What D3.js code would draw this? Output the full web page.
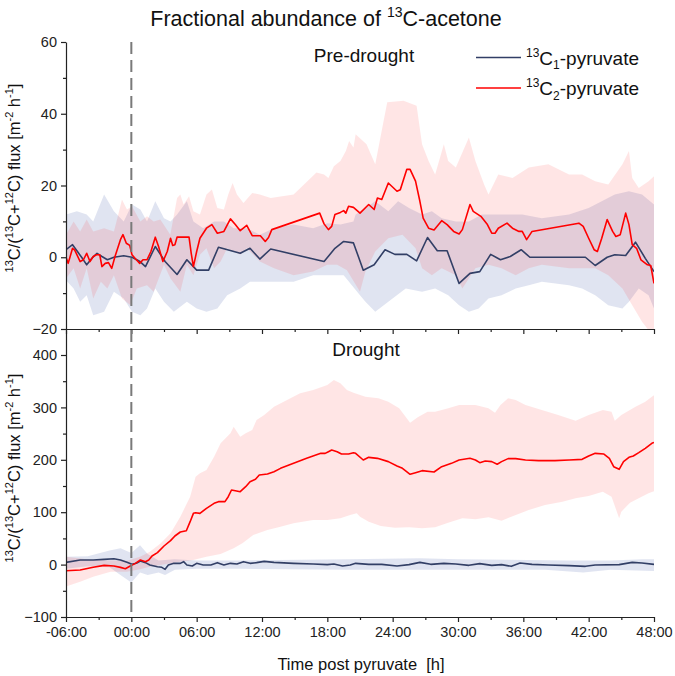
<!DOCTYPE html>
<html><head><meta charset="utf-8">
<script src="https://cdn.jsdelivr.net/npm/d3@7"></script>
<style>body{margin:0;background:#fff}svg{display:block;font-family:"Liberation Sans",Arial,sans-serif}</style>
</head><body><svg id="c" width="675" height="676"></svg>
<script>
// ---------------- DATA ----------------
const xTickHours = [-6,0,6,12,18,24,30,36,42,48];
const xTickLabels = ["-06:00","00:00","06:00","12:00","18:00","24:00","30:00","36:00","42:00","48:00"];
const topYTicks = [-20,0,20,40,60];
const botYTicks = [-100,0,100,200,300,400];
const seriesNames = ["C1","C2"];

// Pre-drought, 13C2 (red)
const preC2Hours = [-6,-5.8,-5.4,-5.2,-4.7,-4.4,-4.1,-3.8,-3.5,-3.2,-2.9,-2.7,-2.4,-2.1,-1.8,-1.5,-1.0,-0.77,-0.46,-0.15,0.06,0.46,0.77,1.07,1.44,1.8,2.2,2.5,2.9,3.3,3.6,3.8,4.0,4.2,4.7,5.3,5.5,5.7,6.0,6.3,6.9,7.4,7.9,8.5,9.1,9.55,10.0,10.6,11.1,11.85,12.3,12.6,12.9,17.3,17.7,18.1,18.4,18.7,19.2,19.5,19.7,19.95,20.4,21.0,21.8,22.3,22.6,23.0,23.6,24.4,24.7,25.3,25.6,26.1,26.5,26.8,27.3,27.8,28.5,29.0,29.6,30.1,30.4,31.1,31.4,32.1,32.7,33.1,33.4,33.7,34.5,35.0,35.6,35.9,36.3,36.8,41.1,41.5,42.0,42.5,42.8,43.2,43.7,44.2,44.5,44.9,45.4,45.7,46.0,46.4,46.8,47.4,47.7,48];
const preC2Values = [0,-1.7,2.5,2.0,-1.2,-0.7,1.1,-1.2,0.2,0.7,0.7,-2.6,-1.7,-1.5,-3.1,0.2,4.9,6.3,3.9,3.3,0.7,-0.7,-1.7,-0.7,-0.7,1.6,5.6,3.0,-1.2,1.6,5.3,3.3,3.5,5.6,5.6,5.6,1.1,-2.6,1.6,5.3,8.1,9.1,6.7,7.2,10.7,9.1,7.4,8.9,6.0,6.0,4.4,5.5,7.7,12.3,9.3,7.7,8.6,11.9,12.5,13.0,12.3,14.2,13.9,12.3,14.7,13.3,16.5,16.1,20.7,18.4,18.8,24.5,24.5,21.2,15.6,10.9,8.1,7.6,10.2,9.1,7.2,6.5,7.7,14.7,12.8,11.4,9.1,6.7,6.7,8.1,9.5,8.1,7.2,7.2,4.9,7.2,9.5,8.6,5.3,2.1,1.6,5.3,10.5,7.2,5.8,6.3,12.3,9.1,3.5,2.5,-0.7,-2.1,-2.3,-7.3];
const preC2UpperHours = [-6,-5.3,-4.7,-4.1,-3.5,-2.5,-1.6,-1.2,-0.86,-0.4,0.06,0.83,1.44,2.05,2.66,3.58,4.2,4.5,4.8,5.3,5.7,6.3,6.9,7.4,7.9,8.5,8.9,9.3,9.7,10.3,11.1,11.8,12.8,14.9,17.0,17.7,18.1,18.6,19.2,19.7,20.0,20.4,20.6,21.6,22.4,23.5,25.0,26.2,26.7,27.3,27.9,28.7,29.1,29.8,31.0,31.6,32.4,32.8,33.7,35.0,36.5,38.3,40.2,41.4,42.6,43.8,45.1,45.7,46.0,46.6,47.5,48];
const preC2UpperValues = [6.3,10,7.2,10.5,7.2,8.1,7.2,11.9,16.1,13.3,14.2,10,11.4,10,10.5,6.3,16.5,17.5,14.7,17,12.8,11.9,17.5,18.9,13.7,13.3,17.5,20.7,17.5,15.1,17.9,17.5,16.5,17.5,23.6,23.1,22.1,25.4,26.8,29.6,32.4,30.6,34.3,31.5,25.9,43.2,43.6,42.2,31.5,26.8,23.1,31.5,26.8,25,33.4,26.8,20.3,17.5,23.1,22.1,25,25.9,23.1,23.1,21.2,20.3,25.9,29.6,22.1,19.3,21.2,22.6];
const preC2LowerHours = [-6,-5.3,-4.7,-4.1,-3.5,-2.8,-2.2,-1.6,-0.86,-0.1,0.5,1.44,2.05,3.0,3.6,4.5,5.1,5.7,6.3,6.9,7.6,8.2,8.8,10.0,10.6,11.8,13.1,14.9,16.7,18.0,18.9,19.8,21.0,21.5,22.4,23.6,24.9,26.1,26.7,27.6,28.5,29.8,30.4,31.6,32.8,34.0,35.3,36.5,37.7,40.2,42.6,43.8,45.1,46.0,46.9,47.8,48];
const preC2LowerValues = [-5.9,-3.1,-8.7,-3.1,-11.5,-6.8,-8.7,-5,-11.5,-13.3,-8.7,-7.8,-9.6,-2.1,-5.9,-9.6,-2.1,-5,0.7,2.5,-3.1,-1.2,2.5,0.7,2.5,-1.2,-3.1,-5,-4,-2.1,-2.1,-3.6,-9.6,-4,1.6,5.3,6.3,2.5,-3.1,-5,-3.1,-5,-8.7,-3.1,-2.1,-3.1,-5,-3.1,-2.1,-3.1,-3.1,-5,-8.7,-13.4,-18,-21.5,-24];

// Pre-drought, 13C1 (blue)
const preC1Hours = [-6,-5.4,-5.0,-4.5,-4.1,-3.6,-3.15,-2.7,-2.2,-1.6,-0.7,0.06,0.8,1.3,2.2,3.1,4.2,5.1,6.0,7.1,8.0,10.0,10.9,11.8,12.8,17.7,18.7,19.5,20.4,21.3,22.3,23.3,24.2,25.3,26.2,27.2,28.1,29.0,30.1,31.1,32.0,33.0,33.9,34.8,35.8,36.6,41.7,42.6,43.7,44.4,45.4,46.3,47.2,48];
const preC1Values = [2.1,3.5,1.8,-0.3,-2.1,-0.2,1.1,0.2,-0.7,0,0.4,0,-1.2,-2.6,3.0,-1.2,-4.8,-0.7,-3.6,-3.6,2.8,1.1,2.5,-0.5,2.3,-1.2,2.5,4.4,4.0,-3.6,-2.1,2.1,0.8,0.8,-1.0,5.5,1.8,1.8,-7.3,-4.5,-4.0,0.8,-0.7,0.2,2.1,0,0,-2.3,0,0.7,0.5,4.2,-0.3,-4.0];
const preC1UpperHours = [-6,-5.0,-4.1,-3.5,-2.5,-1.6,-0.7,0.06,0.83,1.44,2.2,3.0,3.6,4.2,5.1,5.7,6.6,7.6,8.5,9.4,10.6,11.8,13.1,14.9,16.7,18.0,19.2,20.4,20.6,21.5,22.4,23.6,24.5,25.5,26.7,27.6,28.5,29.8,31.0,32.2,33.4,35.9,37.7,40.2,42.0,43.2,44.4,45.7,46.9,48];
const preC1UpperValues = [11.9,12.8,11.9,10,17.5,12.8,10,14.7,13.3,10,15.6,10.9,10,11.9,15.6,10,8.1,10,10,8.1,8.1,6.3,8.1,9.1,8.1,9.5,9.1,10,11.9,13.7,15.6,12.8,15.6,13.7,11.9,12.8,10.9,10,10,11.9,11.9,11.9,10.9,11.9,13.7,15.6,17.5,18.4,17.5,14.7];
const preC1LowerHours = [-6,-5.3,-4.7,-4.1,-3.5,-2.5,-1.6,-0.7,0.06,0.83,1.44,2.2,3.0,3.9,5.1,6.0,6.9,7.9,8.8,10.0,10.9,11.8,14.9,16.7,19.5,21.0,21.5,22.4,23.6,25.2,26.7,27.9,29.1,30.1,31.0,31.9,32.8,34.0,35.3,36.5,37.7,40.2,41.4,42.6,43.8,45.1,45.7,46.6,47.5,48];
const preC1LowerValues = [-6.4,-8.7,-12.4,-10.6,-16.2,-15.2,-9.6,-11.5,-15.2,-16.2,-14.3,-8.7,-12.4,-15.2,-12.4,-14.3,-15.2,-14.3,-10.6,-8.7,-6.8,-6.8,-6.8,-5,-5,-10.6,-12.4,-15.2,-12.4,-8.7,-9.6,-8.7,-10.6,-13.4,-15.2,-14.3,-11.5,-10.6,-8.7,-7.8,-6.8,-7.8,-8.7,-10.6,-13.4,-14.3,-12.4,-8.7,-10.6,-14.3];

// Drought, 13C2 (red)
const drC2Hours = [-6,-4.7,-3.5,-2.5,-1.6,-1.0,-0.55,-0.1,0.37,0.83,1.3,1.6,1.9,2.4,3.0,3.6,4.0,4.5,5.05,5.4,5.7,5.9,6.3,6.9,7.6,8.0,8.6,8.9,9.2,9.55,10.0,10.5,10.9,11.4,11.75,12.5,13.1,13.7,14.9,16.1,17.4,17.8,18.1,18.4,18.9,19.3,19.95,20.4,20.6,21.3,21.8,22.6,23.6,24.4,24.9,25.6,26.1,26.7,27.8,28.5,29.4,30.1,31.1,31.6,32.0,32.5,33.1,33.6,34.0,34.6,35.3,36.2,37.4,38.9,40.2,41.4,42.0,42.6,43.4,43.9,44.3,44.8,45.2,45.7,46.1,46.6,47.2,47.8,48];
const drC2Values = [-11.6,-10.3,-5,-1.5,-2.7,-5.3,-7.8,-2.7,2.4,8.8,5.6,8.8,16.4,22.8,35.5,45.7,54.6,62.2,64.7,81.9,97.8,99,97.8,107.4,116.9,120.1,120.1,129.6,142.4,141.1,139.2,148.7,158.3,162.7,171,173,177.3,183.7,193.2,202.8,212.3,212.3,215.5,218.7,215.5,211,211,213.5,212.3,199.6,204.7,202.8,196.5,188.2,183.7,172.3,175.4,179.3,176.7,186.9,193.2,199.6,202.8,199.6,194.5,197.7,196.5,191.4,196.5,202.2,202.2,199.6,198.4,198.4,199.6,200.9,207.2,212.3,211,202.8,186.9,181.8,196.5,204.7,207.2,213.6,221.9,231.4,233];
const drC2UpperHours = [-6,-3.5,-0.4,0.8,1.7,2.7,3.6,4.5,5.4,5.9,6.3,6.9,7.6,8.2,9.1,9.4,10.0,10.5,11.1,11.5,12.2,13.1,14.3,15.5,16.7,18.0,18.6,19.2,19.8,20.4,21.5,22.7,23.6,24.6,25.6,26.3,27.2,27.9,29.1,30.1,31.6,32.8,33.4,33.9,34.6,35.3,36.2,37.7,39.2,40.8,42.0,43.3,44.1,44.4,45.0,46.3,47.2,47.8,48];
const drC2UpperValues = [15,8.8,7.5,15,24.7,40.6,59.7,91.5,129.6,167.8,174.1,180.5,205.9,231.4,250.5,263.2,244.1,250.5,256.9,276,285.5,301.4,314.1,326.9,333.2,342.7,352.3,345.9,333.2,328.1,320.4,317.3,311,298.2,270.9,281,291.9,291.9,298.2,304.6,304.6,298.2,289.9,304.6,317.3,314,304.6,295.1,285.5,274.7,285.5,295.1,291.9,274.7,285.5,301.4,311,320.4,323];
const drC2LowerHours = [-6,-4.7,-3.5,-1.9,-0.4,0.8,1.7,2.7,3.6,4.5,5.7,6.9,8.2,9.4,10.2,11.2,12.5,13.7,14.9,16.7,18.0,19.2,20.1,20.7,21,21.8,22.9,24.2,25.5,26.7,27.9,29.1,30.4,31.6,32.8,34.0,34.9,36.5,38.0,39.6,40.8,42.0,43.3,44.1,44.8,45.0,45.8,46.6,47.5,48];
const drC2LowerValues = [-42,-32.6,-23,-13.5,-13.5,-9,-4,-0.8,2.4,5.6,8.8,15.1,20.2,31,40.6,56.4,66,72.4,78.7,85.1,85.1,88.3,94.7,97.8,91.5,81.9,73.7,70.5,71.1,69.2,71.1,80,88.3,86.4,90.2,83.8,91.5,104.2,113.7,120.1,126.5,130.9,139.2,129.6,88.3,101,118.2,126.5,136,140];

// Drought, 13C1 (blue)
const drC1Hours = [-6,-4.7,-3.5,-2.5,-1.6,-1.0,-0.4,0.06,0.46,0.83,1.3,1.7,2.4,2.8,3.1,3.4,3.9,4.5,4.8,5.1,5.6,6.0,6.6,7.3,7.9,8.5,9.1,9.7,10.3,10.9,11.5,12.2,13.1,14.9,16.7,18.0,18.6,19.4,20.1,20.6,21.8,23.0,24.4,25.5,26.5,27.5,28.7,29.8,31.0,32.0,33.1,34.0,34.9,35.7,36.8,38.3,40.2,41.7,42.6,44.8,46.0,46.9,48];
const drC1Values = [4.3,8.8,8.8,10,11.3,8.8,4.3,0.5,2.4,6.9,3.7,-0.8,-4,-5.2,-9,-0.8,2.4,2.4,5.6,-0.8,-2.7,2.4,-0.8,-0.8,3.7,-0.8,2.4,1.1,5.6,2.4,3.7,6.2,4.3,2.4,1.1,0,1.1,-2.7,-0.8,2.4,0.5,0.5,-2.7,0,4.3,0.5,2.4,1.1,-1.4,1.8,-1.4,0,-3.3,3,0.5,-0.8,-2,-3.3,-0.8,0,4.3,3,0.5];
const drC1UpperHours = [-6,-4,-2,-1,0,0.8,1.5,2.5,4,6,10,20,26.5,30,40,44,47,48];
const drC1UpperValues = [15,16,27,31,22,37,20,8,10,8,8,10,12,10,8,8,10,10];
const drC1LowerHours = [-6,-4,-2,-1,0,0.8,1.5,2.5,3.1,4,6,10,20,30,38,41.5,44,48];
const drC1LowerValues = [-8,-3,-5,-20,-34,-15,-20,-15,-20,-10,-8,-8,-10,-10,-10,-15,-10,-12];

// ---------------- CHART ----------------
const svg = d3.select("#c");
const colC1 = "#323f66", colC2 = "#ff0000";
const x = d3.scaleLinear().domain([-6,48]).range([66,654]);
const yTop = d3.scaleLinear().domain([-20,60]).range([329,42]);
const yBotBase = d3.scaleLinear().domain([-100,400]).range([617,355]);
const yBot = d3.scaleLinear().domain([-100, yBotBase.invert(330)]).range([617,330]);

function rich(sel, parts, base, small) {
  let shift = 0;
  parts.forEach(([t,k]) => {
    const target = k==="sup" ? -base*0.4 : k==="sub" ? base*0.25 : 0;
    sel.append("tspan").attr("dy", target-shift).attr("font-size", k==="n"?base:small).text(t);
    shift = target;
  });
}
const zip = (a,b) => a.map((h,i)=>[h,b[i]]);

function panel(id, y, top, bottom, c1, c2, yTicks, yMinorStep) {
  const clipId = "clip"+id;
  svg.append("clipPath").attr("id",clipId).append("rect")
     .attr("x",x.range()[0]).attr("y",top).attr("width",x.range()[1]-x.range()[0]).attr("height",bottom-top);
  const g = svg.append("g").attr("clip-path",`url(#${clipId})`);
  const line = d3.line().x(d=>x(d[0])).y(d=>y(d[1]));
  const band = (up, low) => line(up.concat(low.slice().reverse())) + "Z";
  g.append("path").attr("d", band(c1.up, c1.low)).attr("fill","#6677bb").attr("fill-opacity",0.2);
  g.append("path").attr("d", band(c2.up, c2.low)).attr("fill","#ff0000").attr("fill-opacity",0.1);
  g.append("path").attr("d", line(c1.line)).attr("fill","none").attr("stroke",colC1).attr("stroke-width",1.6).attr("stroke-linejoin","round");
  g.append("path").attr("d", line(c2.line)).attr("fill","none").attr("stroke",colC2).attr("stroke-width",1.6).attr("stroke-linejoin","round");

  svg.append("g").attr("transform","translate(66,0)")
    .call(d3.axisLeft(y).tickValues(yTicks).tickSize(5).tickSizeOuter(0).tickPadding(4));
  const minor = d3.range(y.domain()[0], y.domain()[1]+0.001, yMinorStep).filter(v=>!yTicks.includes(v));
  svg.append("g").attr("transform","translate(66,0)")
    .call(d3.axisLeft(y).tickValues(minor).tickSize(3).tickSizeOuter(0).tickFormat(""))
    .call(s=>s.select(".domain").remove());
  svg.append("g").attr("transform",`translate(0,${bottom})`)
    .call(d3.axisBottom(x).tickValues(xTickHours).tickSize(5).tickSizeOuter(0).tickPadding(5)
      .tickFormat((d,i)=> id==="bot" ? xTickLabels[i] : ""));
  svg.append("g").attr("transform",`translate(0,${bottom})`)
    .call(d3.axisBottom(x).tickValues(xTickHours.slice(0,-1).map(h=>h+3)).tickSize(3).tickSizeOuter(0).tickFormat(""))
    .call(s=>s.select(".domain").remove());
}

panel("top", yTop, 42, 329,
  {line: zip(preC1Hours,preC1Values), up: zip(preC1UpperHours,preC1UpperValues), low: zip(preC1LowerHours,preC1LowerValues)},
  {line: zip(preC2Hours,preC2Values), up: zip(preC2UpperHours,preC2UpperValues), low: zip(preC2LowerHours,preC2LowerValues)},
  topYTicks, 10);
panel("bot", yBot, 330, 617,
  {line: zip(drC1Hours,drC1Values), up: zip(drC1UpperHours,drC1UpperValues), low: zip(drC1LowerHours,drC1LowerValues)},
  {line: zip(drC2Hours,drC2Values), up: zip(drC2UpperHours,drC2UpperValues), low: zip(drC2LowerHours,drC2LowerValues)},
  botYTicks, 50);

svg.selectAll(".tick text").attr("font-size",14.5).attr("fill","#222").attr("font-family","'Liberation Sans',Arial,sans-serif");
svg.selectAll(".domain, .tick line").attr("stroke","#222").attr("stroke-width",1.2);

svg.append("line").attr("x1",x(0)).attr("x2",x(0)).attr("y1",42).attr("y2",617)
  .attr("stroke","#7a7a7a").attr("stroke-width",2).attr("stroke-dasharray","12,6");

rich(svg.append("text").attr("x",326).attr("y",26).attr("text-anchor","middle").attr("fill","#111"),
  [["Fractional abundance of ","n"],["13","sup"],["C-acetone","n"]], 21.5, 14);

svg.append("text").attr("x",364).attr("y",62).attr("text-anchor","middle").attr("font-size",19).attr("fill","#111").text("Pre-drought");
svg.append("text").attr("x",366).attr("y",356).attr("text-anchor","middle").attr("font-size",19).attr("fill","#111").text("Drought");

[[colC1,"1",57.5],[colC2,"2",88]].forEach(([c,n,yy])=>{
  svg.append("line").attr("x1",476).attr("x2",521).attr("y1",yy).attr("y2",yy).attr("stroke",c).attr("stroke-width",1.6);
  rich(svg.append("text").attr("x",526).attr("y",yy+7).attr("fill","#111"),
    [["13","sup"],["C","n"],[n,"sub"],["-pyruvate","n"]], 19, 12);
});

[178, 468].forEach(cy=>{
  rich(svg.append("text").attr("transform",`translate(20,${cy}) rotate(-90)`).attr("text-anchor","middle").attr("fill","#111"),
    [["13","sup"],["C/(","n"],["13","sup"],["C+","n"],["12","sup"],["C) flux [m","n"],["-2","sup"],[" h","n"],["-1","sup"],["]","n"]], 16.5, 11);
});

svg.append("text").attr("x",361).attr("y",670).attr("text-anchor","middle").attr("font-size",16.5).attr("fill","#111")
  .attr("xml:space","preserve").text("Time post pyruvate  [h]");
</script></body></html>
